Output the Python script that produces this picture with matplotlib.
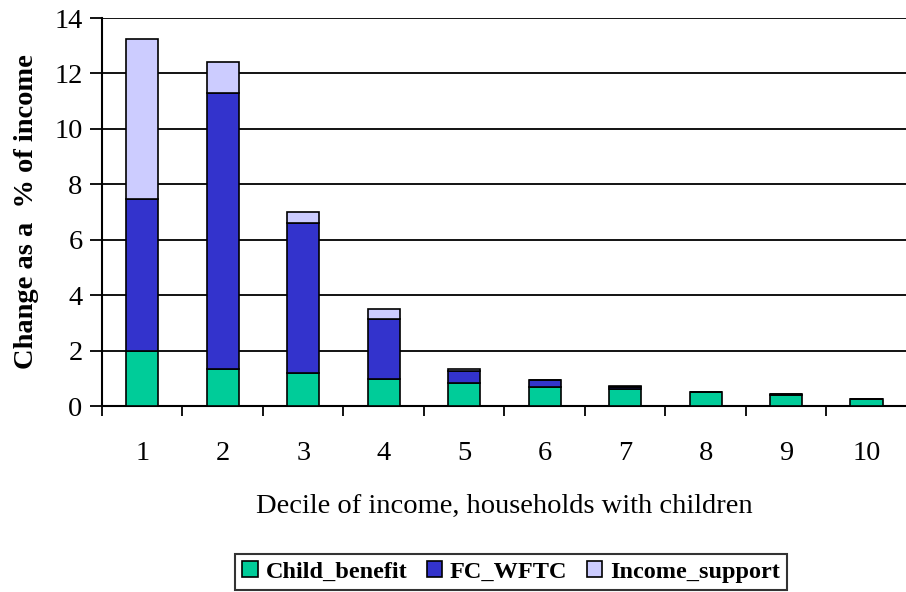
import matplotlib.pyplot as plt
import numpy as np

deciles = ['1', '2', '3', '4', '5', '6', '7', '8', '9', '10']
child_benefit = [2.0, 1.35, 1.19, 0.99, 0.83, 0.69, 0.62, 0.49, 0.41, 0.26]
fc_wftc = [5.48, 9.95, 5.43, 2.16, 0.42, 0.24, 0.08, 0.01, 0.01, 0.0]
income_support = [5.77, 1.1, 0.37, 0.36, 0.1, 0.02, 0.02, 0.0, 0.0, 0.0]

plt.rcParams['font.family'] = ['Liberation Serif', 'DejaVu Serif']

fig = plt.figure(figsize=(9.06, 5.92), dpi=100)
ax = fig.add_axes([102 / 906, 1 - 406 / 592, 1 - 102 / 906, 388 / 592])

x = np.arange(1, len(deciles) + 1)
cb = np.array(child_benefit)
fc = np.array(fc_wftc)
inc = np.array(income_support)
w = 0.4
# stacked bars: green at the bottom, then dark blue, then light lilac
ax.bar(x, cb, w, color='#00cc99', edgecolor='black', linewidth=1.2, label='Child_benefit', zorder=3)
ax.bar(x, fc, w, bottom=cb, color='#3333cc', edgecolor='black', linewidth=1.2, label='FC_WFTC', zorder=3)
ax.bar(x, inc, w, bottom=cb + fc, color='#ccccff', edgecolor='black', linewidth=1.2, label='Income_support', zorder=3)

ax.set_xlim(0.5, 10.49)
ax.set_ylim(0, 14)
ax.set_yticks(range(0, 15, 2))
ax.yaxis.grid(True, color='black', linewidth=1.3)
ax.set_axisbelow(True)
ax.set_xticks(x)
ax.set_xticklabels(deciles)
ax.set_xticks(np.arange(0.5, 10.5, 1), minor=True)  # tick marks between categories
ax.tick_params(axis='x', which='major', length=0, pad=25, labelsize=20.5)
ax.tick_params(axis='x', which='minor', length=7.5, width=1.3, direction='out')
ax.tick_params(axis='y', length=9, width=1.3, labelsize=20.5, pad=5)
for s in ['right', 'top']:
    ax.spines[s].set_visible(False)
for s in ['left', 'bottom']:
    ax.spines[s].set_linewidth(1.5)

ax.set_xlabel('Decile of income, households with children', fontsize=20.5, labelpad=20)
ax.set_ylabel('Change as a  % of income', fontsize=20.5, fontweight='bold', labelpad=11)

leg = fig.legend(loc='center', bbox_to_anchor=(511 / 906, 1 - 572 / 592), ncol=3,
                 prop={'weight': 'bold', 'size': 17.5}, frameon=True, fancybox=False,
                 edgecolor='black', handlelength=0.65, handleheight=0.65,
                 handletextpad=0.3, columnspacing=0.8, borderpad=0.3)
leg.get_frame().set_linewidth(1.5)

fig.savefig('out.png', dpi=100)
